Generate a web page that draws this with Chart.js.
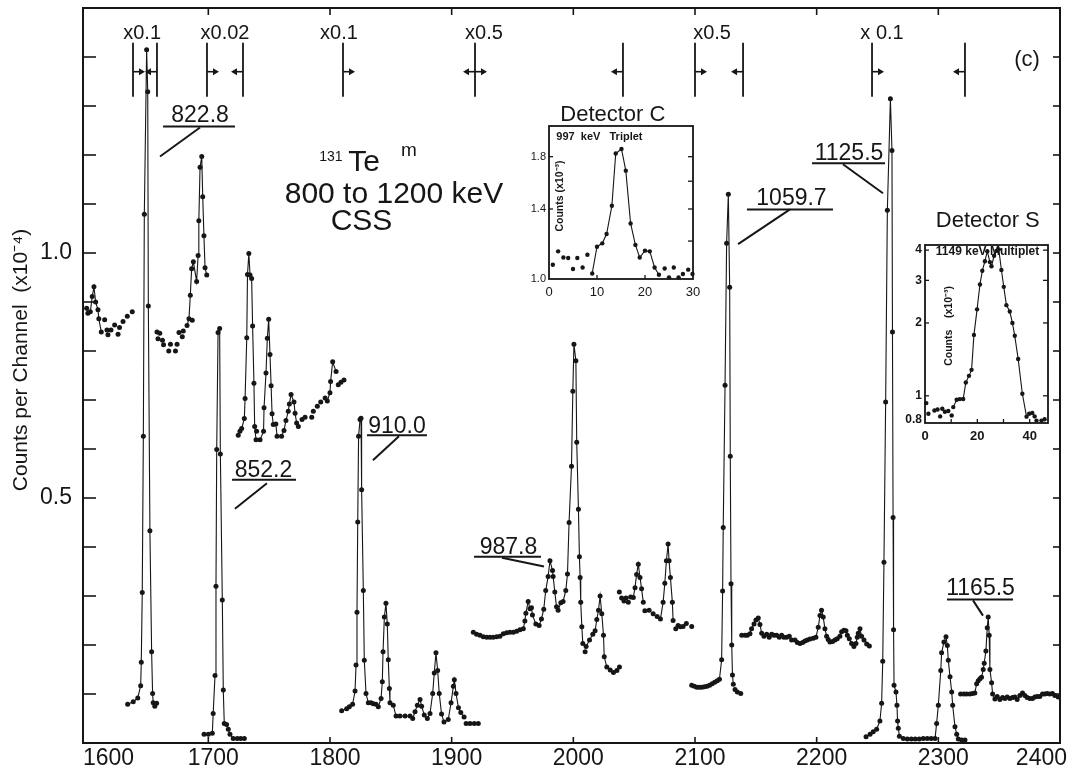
<!DOCTYPE html>
<html>
<head>
<meta charset="utf-8">
<script src="https://cdn.jsdelivr.net/npm/chart.js@4.4.1/dist/chart.umd.min.js"></script>
<style>
  body { margin: 0; background: #fff; }
  #wrap { position: relative; width: 1073px; height: 775px; }
  canvas { position: absolute; }
</style>
</head>
<body>
<div id="wrap">
  <canvas id="main" width="1073" height="775" style="left:0;top:0"></canvas>
  <canvas id="insC" width="190" height="205" style="left:520px;top:100px"></canvas>
  <canvas id="insS" width="165" height="245" style="left:895px;top:205px"></canvas>
</div>
<script>
// axis ticks
const xTicks = [1600, 1700, 1800, 1900, 2000, 2100, 2200, 2300, 2400];
const yTicks = [0.1, 0.2, 0.3, 0.4, 0.5, 0.6, 0.7, 0.8, 0.9, 1.0, 1.1, 1.2, 1.3, 1.4];
const yTickLabels = ['', '', '', '', '0.5', '', '', '', '', '1.0', '', '', '', ''];

// spectrum, channel vs counts (x10^-4); "Line" parts are joined, "Dots" parts are bare points
const seg1Line = [[1600,0.887],[1601,0.877],[1603,0.88],[1604.6,0.911],[1606,0.931],[1607.4,0.90],[1609.3,0.884],[1610,0.866],[1612,0.839]];
const seg1Dots = [[1614.8,0.864],[1616.7,0.843],[1617.5,0.833],[1620,0.843],[1623,0.853],[1625.8,0.834],[1627,0.848],[1629.9,0.86],[1633.4,0.871],[1637.5,0.88]];
const peak8228 = [[1633.7,0.079],[1638.3,0.084],[1642,0.092],[1644.4,0.117],[1644.9,0.165],[1645.7,0.307],[1646.6,0.626],[1647.4,1.079],[1649.3,1.415],[1650.2,1.329],[1650.7,0.892],[1652,0.433],[1653.4,0.186],[1654.2,0.101],[1654.7,0.082],[1656,0.075],[1657.5,0.081]];
const seg3Dots = [[1657.8,0.839],[1658.6,0.825],[1660.1,0.836],[1662.3,0.822],[1663.2,0.813],[1667.5,0.80],[1668.9,0.814],[1673,0.80],[1674.3,0.814],[1675.9,0.838],[1678.6,0.829],[1679.4,0.841],[1686.8,0.863]];
const seg3Line = [[1682.5,0.852],[1684.1,0.866],[1685.2,0.914],[1686.3,0.968],[1687.7,0.982],[1690.4,0.942],[1691.6,0.995],[1692.2,1.066],[1693.2,1.175],[1694.6,1.197],[1695.4,1.115],[1696.4,1.035],[1697.3,0.970],[1698.7,0.955]];
const peak8522 = [[1696.5,0.018],[1700,0.018],[1703.3,0.02],[1704,0.06],[1705.5,0.138],[1706.3,0.32],[1706.9,0.599],[1708,0.838],[1709.3,0.846],[1709.9,0.59],[1711.5,0.292],[1712.3,0.108],[1713.1,0.04],[1715,0.038],[1716.4,0.028],[1717.8,0.018],[1720.5,0.009],[1723.8,0.009],[1726.6,0.009],[1729.6,0.009]];
const seg5LineA = [[1724.6,0.628],[1726,0.636],[1727.4,0.642],[1729.6,0.662],[1730.2,0.703],[1731.6,0.827],[1732.2,0.956],[1733.3,0.999],[1734.3,0.955],[1735.6,0.948],[1736.4,0.851],[1737.5,0.734],[1738.1,0.646],[1739.2,0.619],[1742.5,0.619],[1745.4,0.636],[1745.8,0.684],[1747.4,0.755],[1748.5,0.826],[1749.6,0.865],[1750.7,0.793],[1751.6,0.729],[1752.4,0.672],[1753.4,0.65],[1755.5,0.651],[1756.5,0.626],[1760.2,0.626],[1762.2,0.638],[1763.8,0.658],[1765.7,0.677],[1766.6,0.692],[1768,0.711],[1770.4,0.696],[1771.3,0.673],[1772.6,0.653],[1774,0.646]];
const seg5Dots = [[1739.7,0.636],[1777,0.66],[1779.5,0.665],[1785,0.665],[1786.3,0.677],[1789.6,0.687],[1792.4,0.696]];
const seg5LineB = [[1796,0.704],[1797.8,0.698],[1800,0.715],[1800.5,0.738],[1802.2,0.778],[1805,0.758]];
const seg5Tail = [[1806.8,0.731],[1809,0.736],[1811.5,0.741]];
const peak9100 = [[1809.6,0.066],[1813.7,0.07],[1815.9,0.074],[1818.6,0.079],[1820.6,0.106],[1821.4,0.159],[1822.2,0.267],[1822.8,0.451],[1823.5,0.626],[1824.7,0.66],[1825.5,0.663],[1826,0.517],[1827.4,0.311],[1828.2,0.169],[1829.6,0.101],[1831.5,0.082],[1833.7,0.082],[1835.6,0.08],[1837.8,0.079],[1839.7,0.074],[1842,0.091],[1843,0.125],[1843.6,0.186],[1844.7,0.257],[1846,0.285],[1847.1,0.243],[1847.9,0.17],[1848.8,0.111],[1849.3,0.082],[1852,0.077],[1854.3,0.055],[1857.5,0.055],[1861.7,0.055],[1865.8,0.055],[1868,0.05],[1869.9,0.064],[1871.8,0.077],[1874,0.089],[1875.3,0.075],[1877.5,0.057],[1880,0.05],[1882.2,0.06],[1884.4,0.101],[1885.7,0.143],[1887.1,0.184],[1888.5,0.148],[1889.8,0.101],[1891.7,0.059],[1893.7,0.043],[1897.2,0.048],[1899.5,0.082],[1901.4,0.116],[1902.2,0.129],[1903.6,0.101],[1905.6,0.072],[1907.5,0.062],[1910.2,0.053]];
const seg6Tail = [[1911.9,0.04],[1915.1,0.04],[1918.6,0.04],[1921.9,0.04]];
const seg7Dots = [[1917.8,0.226],[1920.5,0.222],[1923.3,0.22],[1926,0.217],[1928.8,0.216],[1931.5,0.216],[1934.2,0.216],[1937,0.217],[1939.7,0.218],[1942.5,0.223],[1945.2,0.225],[1947.9,0.226],[1950.7,0.226],[1953.4,0.228],[1956.1,0.231],[2009.7,0.186]];
const seg7Line = [[1958.9,0.233],[1960.2,0.249],[1961,0.265],[1962.9,0.289],[1964.3,0.274],[1965.6,0.276],[1966.4,0.261],[1969.2,0.243],[1971.9,0.24],[1973.8,0.253],[1975.7,0.273],[1977.3,0.311],[1979.3,0.34],[1980.8,0.372],[1982.9,0.352],[1983.4,0.34],[1984.8,0.308],[1986.2,0.278],[1987.5,0.271],[1989.7,0.286],[1991.6,0.289],[1993.8,0.311],[1995.2,0.345],[1996.5,0.45],[1998.5,0.565],[1999.6,0.718],[2000.5,0.814],[2002.1,0.78],[2002.8,0.614],[2004.2,0.477],[2005,0.38],[2005.6,0.338],[2006.1,0.287],[2007,0.237],[2007.8,0.203],[2010.5,0.197],[2013.3,0.21],[2016,0.222],[2017.9,0.229],[2019.3,0.252],[2020.7,0.271],[2022,0.3],[2023.4,0.264],[2024.8,0.22],[2025.4,0.176],[2027.5,0.155],[2030.3,0.149],[2033,0.144],[2035.8,0.148],[2037.9,0.155]];
const seg8DotsA = [[2037.8,0.308],[2039.7,0.296],[2041.6,0.29],[2043.3,0.296],[2045.2,0.287],[2047.1,0.298]];
const seg8LineA = [[2049.3,0.297],[2050.7,0.317],[2052,0.344],[2053.4,0.365],[2054.8,0.338],[2056.1,0.315],[2057.5,0.287]];
const seg8DotsB = [[2058.8,0.27],[2062.3,0.271],[2065.6,0.264],[2068.9,0.258]];
const seg8LineB = [[2071.6,0.253],[2073.8,0.287],[2075.2,0.326],[2076.5,0.372],[2077.9,0.406],[2078.7,0.372],[2079.8,0.338],[2081.4,0.287],[2082,0.25]];
const seg8DotsC = [[2084.2,0.233],[2086.1,0.24],[2088,0.237],[2090.2,0.238],[2092.9,0.244],[2097.3,0.238]];
const peak10597 = [[2097.3,0.118],[2099.4,0.116],[2101.5,0.114],[2103.6,0.114],[2105.7,0.114],[2107.8,0.115],[2109.9,0.116],[2112,0.118],[2114.1,0.121],[2116.2,0.124],[2118.3,0.127],[2120.1,0.13],[2121.9,0.17],[2122.7,0.31],[2123.2,0.44],[2124.7,0.73],[2126,1.02],[2127.4,1.12],[2128.5,0.93],[2129,0.585],[2129.6,0.325],[2130.2,0.2],[2130.8,0.139],[2131.5,0.12]];
const peak10597Tail = [[2132.9,0.109],[2134.8,0.104],[2137.6,0.101]];
const seg10 = [[2138.4,0.22],[2141.1,0.22],[2143,0.22],[2145.2,0.223],[2146.5,0.233],[2148.5,0.243],[2150.1,0.251],[2152,0.255],[2153.4,0.242],[2154.8,0.224],[2156.7,0.218],[2158.9,0.222],[2161,0.216],[2163,0.222],[2164.9,0.22],[2167.1,0.22],[2169.3,0.216],[2171.2,0.22],[2173.1,0.216],[2175.3,0.216],[2177.5,0.218],[2179.4,0.21],[2182.2,0.21],[2184.1,0.205],[2186.3,0.203],[2188.5,0.205],[2190.4,0.208],[2192.3,0.21],[2194.5,0.212],[2197.2,0.214],[2199.4,0.216],[2201.3,0.236],[2202.7,0.26],[2204,0.271],[2205.4,0.257],[2206.8,0.233],[2208.2,0.218],[2209.5,0.211],[2210.9,0.206],[2213.1,0.207],[2215,0.21],[2216.9,0.213],[2219.1,0.218],[2220.5,0.227],[2222.4,0.23],[2224.1,0.229],[2225.2,0.22],[2226.8,0.213],[2228.7,0.203],[2230.6,0.197],[2232.3,0.203],[2233.4,0.216],[2234.2,0.224],[2235.6,0.233],[2236.9,0.218],[2238.9,0.21],[2241.1,0.202],[2243.3,0.198]];
const peak11255 = [[2240.6,0.013],[2243.9,0.018],[2246.5,0.023],[2249.3,0.028],[2252,0.045],[2253.4,0.081],[2254.3,0.167],[2255.3,0.369],[2256.7,0.696],[2258.1,1.087],[2260.6,1.315],[2261.9,1.209],[2262.3,0.839],[2262.8,0.46],[2263.2,0.231],[2263.6,0.118],[2265.2,0.104],[2266,0.077],[2266.5,0.045],[2267.1,0.03],[2268,0.014],[2271.2,0.009],[2274.5,0.008],[2277.8,0.008],[2281,0.008],[2284.3,0.008],[2287.6,0.009],[2290.9,0.009],[2294.1,0.009],[2297.3,0.009],[2298.6,0.04],[2300,0.077],[2302,0.148],[2302.7,0.184],[2304.6,0.206],[2306.3,0.217],[2307.4,0.199],[2308.2,0.169],[2309.6,0.135],[2311,0.104],[2311.8,0.077],[2313.7,0.033],[2315.1,0.018],[2316.4,0.008],[2319.2,0.006],[2321.9,0.006]];
const seg12 = [[2318.3,0.1],[2321,0.1],[2323.2,0.1],[2325.9,0.1],[2328.1,0.101],[2330,0.102],[2331.5,0.121],[2332.8,0.127],[2334.2,0.131],[2335.5,0.134],[2336.9,0.15],[2337.7,0.163],[2339.1,0.188],[2340.2,0.235],[2341,0.257],[2341.8,0.22],[2342.4,0.15],[2343.8,0.123],[2344.6,0.1],[2346.5,0.09],[2348.4,0.095],[2350.6,0.089],[2352.8,0.093],[2354.7,0.091],[2356.6,0.094],[2358.8,0.091],[2361,0.093],[2362.9,0.094],[2364.8,0.089],[2367,0.097],[2369.2,0.102],[2371.1,0.097],[2373,0.093],[2375.2,0.091],[2377.4,0.091],[2379.3,0.094],[2381.3,0.095],[2383.4,0.095],[2385.6,0.1],[2387.5,0.1],[2389.4,0.101],[2391.6,0.1],[2393.8,0.101],[2395.7,0.097],[2398.5,0.094]];

// insets: channel offset vs counts (x10^-3)
const detC = [[0.8,1.071],[1.9,1.142],[3,1.109],[4,1.106],[5,1.049],[5.9,1.106],[7,1.057],[8,1.124],[9,1.027],[10,1.168],[11.1,1.187],[12,1.241],[13.1,1.422],[13.9,1.828],[15.1,1.868],[16,1.683],[17,1.306],[18,1.178],[18.9,1.109],[20,1.146],[21,1.142],[22,1.057],[22.9,1.021],[24.1,1.052],[25,1.008],[26,1.057],[27,1.008],[27.9,1.024],[29,1.046],[29.9,1.024]];
const detCJoined = [8, 22];
const detCyTicks = [1.0, 1.4, 1.8];
const detCyLabels = ['1.0', '1.4', '1.8'];
const detS = [[0.5,0.933],[1.3,0.843],[3.6,0.87],[4.8,0.878],[5.8,0.822],[6.6,0.884],[7.6,0.859],[8.9,0.865],[10.2,0.829],[10.8,0.898],[12.1,0.963],[13.3,0.969],[14.6,0.97],[15.6,1.135],[16.8,1.209],[17.8,1.28],[18.7,1.785],[19.9,2.277],[21,2.886],[21.9,3.285],[22.9,3.6],[23.8,3.96],[24.8,3.57],[25.4,3.43],[26.4,3.79],[27.3,3.97],[28.2,4.03],[29.2,3.31],[30.1,2.82],[31.1,2.37],[32.4,2.23],[33.4,2.0],[34.3,1.77],[35.6,1.42],[37.2,1.02],[38.8,0.82],[39.8,0.843],[41,0.849],[41.9,0.822],[42.6,0.79],[44.5,0.79],[45.7,0.80]];
const detSJoined = [9, 35];
const detSyTicks = [4, 3, 2, 1, 0.8];
const detSyLabels = ['4', '3', '2', '1', '0.8'];

// annotations
const rangeEdges = [1638.1, 1657.8, 1698.9, 1728.5, 1810.7, 1919.2, 2040.8, 2100, 2139.5, 2245.5, 2321.9];
const rangeArrows = ['r', 'l', 'r', 'l', 'r', 'lr', 'l', 'r', 'l', 'r', 'l'];
const rangeFactors = ['x0.1', 'x0.02', 'x0.1', 'x0.5', 'x0.5', 'x 0.1'];
const rangeFactorAt = [1645.6, 1713.7, 1807.4, 1926.6, 2114, 2253.7];
const peakNames = ['822.8', '852.2', '910.0', '987.8', '1059.7', '1125.5', '1165.5'];
const peakTextAt = [[1693.2,1.280],[1745.3,0.555],[1855.1,0.646],[1946.7,0.398],[2179.3,1.110],[2226.6,1.203],[2334.7,0.315]];
const peakUnderline = [[1662.8,1721.9,1.258],[1719.5,1772.1,0.537],[1830.4,1879.7,0.628],[1918.4,1973.4,0.380],[2142.7,2213.4,1.089],[2196.2,2256.2,1.183],[2307.1,2361.4,0.293]];
const peakLeader = [[1693.2,1.256,1660.3,1.197],[1748.2,0.530,1721.9,0.478],[1856.7,0.626,1835.3,0.577],[1941.4,0.378,1975.9,0.360],[2178.1,1.089,2135.4,1.018],[2221.6,1.181,2254.5,1.122],[2328.5,0.291,2336.7,0.260]];

const FONT = '"Liberation Sans", Arial, sans-serif';
const INK = '#161616';

const toXY = pts => pts.map(([x, y]) => ({ x, y }));

function seg(ctx, x1, y1, x2, y2) {
  ctx.beginPath();
  ctx.moveTo(x1, y1);
  ctx.lineTo(x2, y2);
  ctx.stroke();
}

function arrow(ctx, x, y, dir) {
  const ex = x + dir * 10;
  seg(ctx, x, y, ex, y);
  ctx.beginPath();
  ctx.moveTo(ex + dir * 2, y);
  ctx.lineTo(ex - dir * 4, y - 3.5);
  ctx.lineTo(ex - dir * 4, y + 3.5);
  ctx.closePath();
  ctx.fill();
}

function text(ctx, s, x, y, size, align, weight) {
  ctx.font = (weight || '') + ' ' + size + 'px ' + FONT;
  ctx.textAlign = align || 'center';
  ctx.textBaseline = 'middle';
  ctx.fillText(s, x, y);
}

const mainDecor = {
  id: 'mainDecor',
  afterDatasetsDraw(chart) {
    const { ctx, chartArea: a, scales: { x, y } } = chart;
    ctx.save();
    ctx.strokeStyle = INK;
    ctx.fillStyle = INK;
    ctx.lineWidth = 2;
    ctx.strokeRect(a.left, a.top, a.right - a.left, a.bottom - a.top);

    ctx.lineWidth = 1.6;
    yTicks.forEach((v, i) => {
      const py = y.getPixelForValue(v);
      seg(ctx, a.left, py, a.left + 13, py);
      seg(ctx, a.right, py, a.right - 7, py);
      if (yTickLabels[i]) text(ctx, yTickLabels[i], a.left - 11, py, 23, 'right');
    });
    xTicks.forEach((c, i) => {
      const px = x.getPixelForValue(c);
      if (i > 0 && i < xTicks.length - 1) {
        seg(ctx, px, a.top, px, a.top + 7);
        seg(ctx, px, a.bottom, px, a.bottom - 6);
      }
      let lx = px + 5, al = 'center';
      if (i === 0) { lx = a.left; al = 'left'; }
      if (i === xTicks.length - 1) { lx = a.right + 7; al = 'right'; }
      text(ctx, String(c), lx, a.bottom + 16, 23, al);
    });

    // axis title
    ctx.save();
    ctx.translate(21, 360);
    ctx.rotate(-Math.PI / 2);
    text(ctx, 'Counts per Channel  (x10\u207B\u2074)', 0, 0, 21);
    ctx.restore();

    // scale range markers
    const top = y.getPixelForValue(1.429), bot = y.getPixelForValue(1.319), ay = y.getPixelForValue(1.37);
    rangeEdges.forEach((c, i) => {
      const px = x.getPixelForValue(c);
      ctx.lineWidth = 1.8;
      seg(ctx, px, top, px, bot);
      ctx.lineWidth = 1.6;
      if (rangeArrows[i].includes('r')) arrow(ctx, px, ay, 1);
      if (rangeArrows[i].includes('l')) arrow(ctx, px, ay, -1);
    });
    rangeFactors.forEach((s, i) => {
      text(ctx, s, x.getPixelForValue(rangeFactorAt[i]), y.getPixelForValue(1.447), 20);
    });

    // peak energy labels
    ctx.lineWidth = 2;
    peakNames.forEach((s, i) => {
      const [tx, ty] = peakTextAt[i];
      text(ctx, s, x.getPixelForValue(tx), y.getPixelForValue(ty), 23);
      const [u1, u2, uy] = peakUnderline[i];
      seg(ctx, x.getPixelForValue(u1), y.getPixelForValue(uy), x.getPixelForValue(u2), y.getPixelForValue(uy));
      const [l1, m1, l2, m2] = peakLeader[i];
      seg(ctx, x.getPixelForValue(l1), y.getPixelForValue(m1), x.getPixelForValue(l2), y.getPixelForValue(m2));
    });

    // title block
    text(ctx, '131', x.getPixelForValue(1800.8), y.getPixelForValue(1.195), 14);
    text(ctx, 'Te', x.getPixelForValue(1828), y.getPixelForValue(1.185), 30);
    text(ctx, 'm', x.getPixelForValue(1864.9), y.getPixelForValue(1.209), 19);
    text(ctx, '800 to 1200 keV', x.getPixelForValue(1852.6), y.getPixelForValue(1.118), 30);
    text(ctx, 'CSS', x.getPixelForValue(1825.9), y.getPixelForValue(1.064), 30);
    text(ctx, '(c)', x.getPixelForValue(2372.9), y.getPixelForValue(1.394), 22);
    ctx.restore();
  }
};

const pointStyle = { pointRadius: 2.5, pointBackgroundColor: INK, pointBorderWidth: 0, pointHoverRadius: 2.5, clip: false };
const traces = [
  [seg1Line, true], [seg1Dots, false], [peak8228, true], [seg3Dots, false], [seg3Line, true],
  [peak8522, true], [seg5LineA, true], [seg5Dots, false], [seg5LineB, true], [seg5Tail, false],
  [peak9100, true], [seg6Tail, false], [seg7Dots, false], [seg7Line, true],
  [seg8DotsA, false], [seg8LineA, true], [seg8DotsB, false], [seg8LineB, true], [seg8DotsC, false],
  [peak10597, true], [peak10597Tail, false], [seg10, true], [peak11255, true], [seg12, true]
];

new Chart(document.getElementById('main'), {
  type: 'scatter',
  data: {
    datasets: traces.map(([pts, joined]) => Object.assign({
      data: toXY(pts),
      showLine: joined,
      borderColor: INK,
      borderWidth: 1.1
    }, pointStyle))
  },
  options: {
    responsive: false,
    animation: false,
    layout: { padding: { left: 83, right: 13, top: 8, bottom: 32 } },
    scales: {
      x: { type: 'linear', min: 1597, max: 2400, display: false },
      y: { type: 'linear', min: 0, max: 1.5, display: false }
    },
    plugins: { legend: { display: false }, tooltip: { enabled: false } }
  },
  plugins: [mainDecor]
});

function insetDecor(o) {
  return {
    id: 'inset' + o.title.slice(-1),
    afterDatasetsDraw(chart) {
      const { ctx, chartArea: a, scales: { x, y } } = chart;
      ctx.save();
      ctx.strokeStyle = INK;
      ctx.fillStyle = INK;
      ctx.lineWidth = 1.8;
      ctx.strokeRect(a.left, a.top, a.right - a.left, a.bottom - a.top);
      ctx.lineWidth = 1.3;
      o.rightTicks.forEach(v => { const py = y.getPixelForValue(v); seg(ctx, a.right, py, a.right - 5, py); });
      o.leftTicks.forEach(v => { const py = y.getPixelForValue(v); seg(ctx, a.left, py, a.left + 4, py); });
      o.xTicks.forEach(v => { const px = x.getPixelForValue(v); seg(ctx, px, a.bottom, px, a.bottom - 4); });
      o.yLabelAt.forEach((v, i) => text(ctx, o.yLabels[i], a.left - 3, y.getPixelForValue(v), o.ySize, 'right', o.yWeight));
      o.xLabels.forEach(v => text(ctx, String(v), x.getPixelForValue(v), a.bottom + 13, 13, 'center', o.yWeight));
      text(ctx, o.title, x.getPixelForValue(o.titleX), a.top + o.titleDy, 22);
      text(ctx, o.caption, x.getPixelForValue(o.captionX), a.top + o.captionDy, o.captionSize, 'center', 'bold');
      ctx.save();
      ctx.translate(a.left + o.yTitleDx, y.getPixelForValue(o.yTitleAt));
      ctx.rotate(-Math.PI / 2);
      text(ctx, o.yTitle, 0, 0, 10.5, 'center', 'bold');
      ctx.restore();
      ctx.restore();
    }
  };
}

function inset(id, pts, joined, xMax, yMin, yMax, pad, deco) {
  new Chart(document.getElementById(id), {
    type: 'scatter',
    data: {
      datasets: [
        Object.assign({ data: toXY(pts), showLine: false }, pointStyle, { pointRadius: 2.2 }),
        { data: toXY(pts.slice(joined[0], joined[1] + 1)), showLine: true, borderColor: INK, borderWidth: 1.1, pointRadius: 0, clip: false }
      ]
    },
    options: {
      responsive: false,
      animation: false,
      layout: { padding: pad },
      scales: {
        x: { type: 'linear', min: 0, max: xMax, display: false },
        y: { type: 'logarithmic', min: yMin, max: yMax, display: false }
      },
      plugins: { legend: { display: false }, tooltip: { enabled: false } }
    },
    plugins: [insetDecor(deco)]
  });
}

inset('insC', detC, detCJoined, 30, 1.0, 2.086, { left: 29, right: 17, top: 26, bottom: 26 }, {
  title: 'Detector C', titleX: 13.3, titleDy: -11,
  caption: '997  keV   Triplet', captionX: 10.5, captionDy: 11, captionSize: 11,
  rightTicks: [1.2, 1.4, 1.6, 1.8], leftTicks: [1.4, 1.8], xTicks: [10, 20],
  yLabelAt: detCyTicks, yLabels: detCyLabels, ySize: 11, yWeight: '',
  xLabels: [0, 10, 20, 30],
  yTitle: 'Counts (x10\u207B\u00B3)', yTitleDx: 11, yTitleAt: 1.49
});

inset('insS', detS, detSJoined, 47, 0.772, 4.2, { left: 30, right: 12, top: 40, bottom: 27 }, {
  title: 'Detector S', titleX: 24, titleDy: -24,
  caption: '1149 keV Multiplet', captionX: 23.9, captionDy: 7, captionSize: 12,
  rightTicks: [1, 2, 3, 4], leftTicks: [1, 2, 3, 4], xTicks: [10, 20, 30, 40],
  yLabelAt: detSyTicks, yLabels: detSyLabels, ySize: 12, yWeight: 'bold',
  xLabels: [0, 20, 40],
  yTitle: 'Counts    (x10\u207B\u00B3)', yTitleDx: 24, yTitleAt: 1.945
});
</script>
</body>
</html>
